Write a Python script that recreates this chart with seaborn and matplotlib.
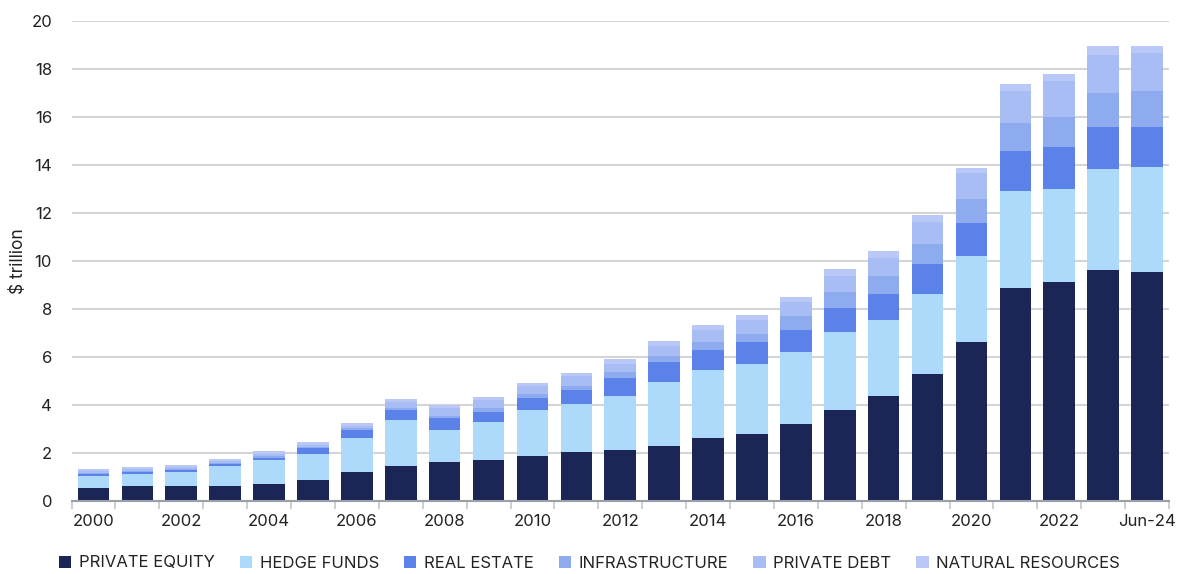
import matplotlib
matplotlib.use("Agg")
import matplotlib.pyplot as plt
from matplotlib.patches import Patch
from matplotlib.ticker import FixedLocator
import numpy as np
import pandas as pd
import seaborn as sns

years = [str(y) for y in range(2000, 2024)] + ["Jun-24"]

private_equity = [0.54, 0.62, 0.62, 0.62, 0.71, 0.88, 1.21, 1.46, 1.62, 1.71, 1.88, 2.04, 2.12,
                  2.29, 2.62, 2.79, 3.21, 3.79, 4.38, 5.29, 6.62, 8.88, 9.12, 9.62, 9.54]
hedge_funds = [0.50, 0.50, 0.58, 0.83, 1.00, 1.08, 1.42, 1.92, 1.33, 1.58, 1.92, 2.00, 2.25,
               2.67, 2.83, 2.92, 3.00, 3.25, 3.17, 3.33, 3.58, 4.04, 3.88, 4.21, 4.38]
real_estate = [0.08, 0.08, 0.08, 0.08, 0.08, 0.25, 0.33, 0.42, 0.50, 0.42, 0.50, 0.58, 0.75,
               0.83, 0.83, 0.92, 0.92, 1.00, 1.08, 1.25, 1.38, 1.67, 1.75, 1.75, 1.67]
infrastructure = [0.04, 0.04, 0.04, 0.04, 0.08, 0.04, 0.08, 0.08, 0.08, 0.17, 0.17, 0.17, 0.25,
                  0.25, 0.33, 0.33, 0.58, 0.67, 0.75, 0.83, 1.00, 1.17, 1.25, 1.42, 1.50]
private_debt = [0.08, 0.08, 0.08, 0.08, 0.08, 0.08, 0.08, 0.25, 0.33, 0.33, 0.33, 0.42, 0.33,
                0.42, 0.50, 0.58, 0.58, 0.67, 0.75, 0.92, 1.09, 1.33, 1.50, 1.58, 1.58]
natural_resources = [0.08, 0.08, 0.08, 0.12, 0.12, 0.12, 0.12, 0.12, 0.12, 0.12, 0.12, 0.12, 0.21,
                     0.21, 0.21, 0.21, 0.21, 0.29, 0.29, 0.29, 0.21, 0.29, 0.29, 0.38, 0.29]

series_names = ["PRIVATE EQUITY", "HEDGE FUNDS", "REAL ESTATE", "INFRASTRUCTURE",
                "PRIVATE DEBT", "NATURAL RESOURCES"]
series_values = [private_equity, hedge_funds, real_estate, infrastructure,
                 private_debt, natural_resources]
colors = ["#1b2556", "#add9fa", "#5b82e8", "#8fabf0", "#a9bdf5", "#b9c8f6"]

df = pd.DataFrame({n: v for n, v in zip(series_names, series_values)}, index=years)
cum = df.cumsum(axis=1)

sns.set_theme(style="white")
plt.rcParams["font.family"] = ["Inter", "DejaVu Sans"]

fig = plt.figure(figsize=(11.79, 5.74), dpi=100)
ax = fig.add_axes([71.5 / 1179, 1 - 501 / 574, (1169 - 71.5) / 1179, (501 - 21) / 574])

for name, color in reversed(list(zip(series_names, colors))):
    sns.barplot(x=years, y=cum[name].values, color=color, saturation=1,
                width=0.72, ax=ax, linewidth=0)

ax.set_ylim(0, 20)
ax.set_xlim(-0.5, len(years) - 0.5)
ax.set_yticks(np.arange(0, 21, 2))
ax.yaxis.grid(True, color="#d3d5d8", linewidth=1.5)
ax.set_axisbelow(True)
for s in ["top", "right", "left"]:
    ax.spines[s].set_visible(False)
ax.spines["bottom"].set_color("#9aa0a8")
ax.spines["bottom"].set_linewidth(1.5)

ax.set_xticks(range(0, len(years), 2))
ax.set_xticklabels([years[i] for i in range(0, len(years), 2)])
ax.xaxis.set_minor_locator(FixedLocator(np.arange(-0.5, len(years), 1)))
ax.tick_params(axis="x", which="major", length=0, pad=9, labelsize=12, labelcolor="#222222")
ax.tick_params(axis="x", which="minor", length=6, width=1.3, color="#c8cbcf", bottom=True)
ax.tick_params(axis="y", length=0, pad=14, labelsize=12, labelcolor="#222222")
ax.set_xlabel("")
ax.set_ylabel("$ trillion", fontsize=12.5, color="#222222", labelpad=3)

handles = [Patch(facecolor=c, edgecolor="none", label=n) for n, c in zip(series_names, colors)]
fig.legend(handles=handles, loc="center", bbox_to_anchor=(0.5, 1 - 563 / 574), ncol=6,
           frameon=False, fontsize=12, handlelength=0.75, handleheight=0.75,
           handletextpad=0.45, columnspacing=1.5, labelcolor="#222222")

fig.savefig("out.png", dpi=100)
